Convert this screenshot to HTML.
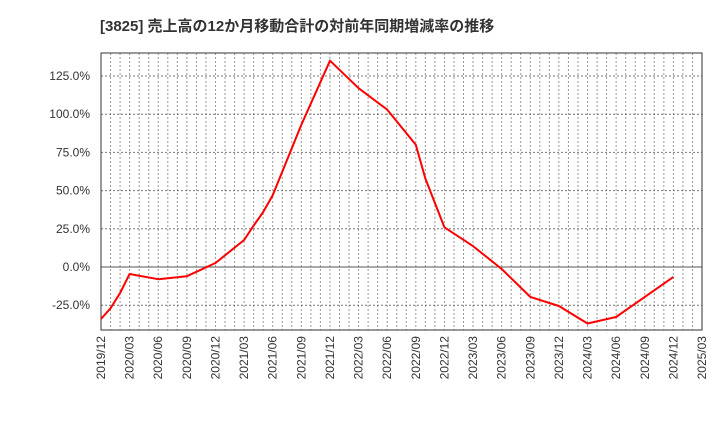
<!DOCTYPE html>
<html><head><meta charset="utf-8"><style>
body{margin:0;background:#fff;}
svg{display:block;font-family:"Liberation Sans","Noto Sans CJK JP",sans-serif;}
</style></head><body>
<svg id="chart" width="720" height="440">
<text x="100" y="31" font-size="15" font-weight="bold" fill="#333">[3825]  売上高の12か月移動合計の対前年同期増減率の推移</text>
<g id="grid"></g><g id="axes"></g><g id="series"></g>
</svg>
<script>
const monthIdx=[0,1,2,3,6,9,12,15,16,17,18,21,24,27,30,33,34,36,39,42,45,48,51,54,57,60];
const values=[-34,-27,-17,-4.6,-8,-6,2.6,17.7,27,36,47,93,135,117,103,80,58,26,13.7,-1.3,-19.6,-25.5,-37,-32.7,-19.6,-6.5];
const yTicks=[-25,0,25,50,75,100,125];
const xLabels=["2019/12","2020/03","2020/06","2020/09","2020/12","2021/03","2021/06","2021/09","2021/12","2022/03","2022/06","2022/09","2022/12","2023/03","2023/06","2023/09","2023/12","2024/03","2024/06","2024/09","2024/12","2025/03"];
const L=101,R=702,T=53,B=330,NM=63;
const xs=m=>L+(R-L)*m/NM;
const ys=v=>267-v*38.2/25;
const ns="http://www.w3.org/2000/svg";
function mk(tag,attrs,parent){const e=document.createElementNS(ns,tag);for(const k in attrs)e.setAttribute(k,attrs[k]);parent.appendChild(e);return e;}
const grid=document.getElementById('grid'),axes=document.getElementById('axes'),series=document.getElementById('series');
for(let m=1;m<NM;m++){const l=mk('line',{x1:xs(m),x2:xs(m),y1:T,y2:B,stroke:'#999','stroke-dasharray':'2,2','stroke-width':1},grid);

}
yTicks.forEach(v=>{const l=mk('line',{x1:L,x2:R,y1:ys(v),y2:ys(v),stroke:v===0?'#555':'#777','stroke-dasharray':v===0?'':'2,2','stroke-width':1},grid);


const t=mk('text',{x:90,y:ys(v)+4,'text-anchor':'end','font-size':12,fill:'#333'},axes);t.textContent=v.toFixed(1)+'%';

});
xLabels.forEach((s,i)=>{const x=xs(i*3);const t=mk('text',{transform:`translate(${x+4},${B+6}) rotate(-90)`,'text-anchor':'end','font-size':12,fill:'#333'},axes);t.textContent=s;

});
const fr=mk('rect',{x:L,y:T,width:R-L,height:B-T,fill:'none',stroke:'#333','stroke-width':1},axes);


const pts=monthIdx.map((m,i)=>xs(m).toFixed(1)+','+ys(values[i]).toFixed(1)).join(' ');
const pl=mk('polyline',{points:pts,fill:'none',stroke:'#f00','stroke-width':2,'stroke-linejoin':'round'},series);


</script>
</body></html>
